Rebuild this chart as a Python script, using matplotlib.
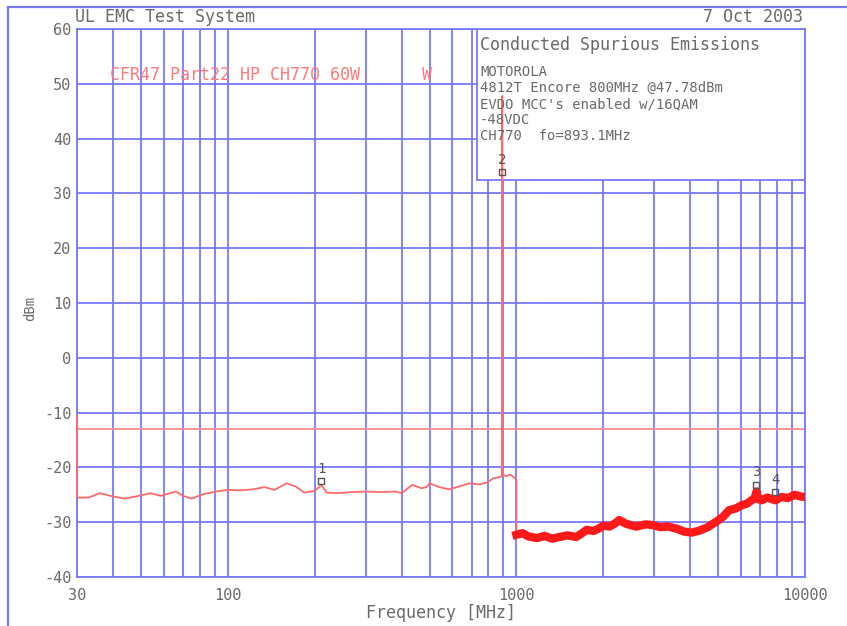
import matplotlib
matplotlib.use("Agg")
import matplotlib.pyplot as plt
from matplotlib.patches import Rectangle
from matplotlib.lines import Line2D
from matplotlib.ticker import FixedLocator, NullFormatter

# Trace below 1 GHz (MHz, dBm)
low_freq = [30, 30, 33, 36, 40, 44, 48, 54, 58.6, 66, 70, 75, 82, 91, 100,
            110, 122, 134, 145, 160, 172, 184, 200, 211, 220, 240, 270, 300,
            340, 380, 400, 435, 470, 488, 500, 540, 585, 640, 687, 740, 790,
            830, 870, 890, 893, 896, 920, 950, 980, 1000, 1000]
low_dbm = [-10.4, -25.5, -25.5, -24.7, -25.3, -25.7, -25.3, -24.7, -25.2,
           -24.4, -25.2, -25.7, -24.9, -24.4, -24.1, -24.2, -24.0, -23.6,
           -24.1, -22.9, -23.5, -24.6, -24.3, -23.2, -24.6, -24.7, -24.5,
           -24.4, -24.5, -24.4, -24.7, -23.2, -23.8, -23.6, -22.9, -23.6,
           -24.0, -23.4, -22.9, -23.1, -22.8, -22.0, -21.8, -21.6, 47.78,
           -21.3, -21.6, -21.3, -21.8, -22.2, -32.3]

# Trace above 1 GHz
high_freq = [1000, 1050, 1100, 1180, 1250, 1330, 1410, 1500, 1610, 1700,
             1750, 1850, 1940, 2000, 2100, 2200, 2270, 2400, 2600, 2800,
             2950, 3150, 3350, 3600, 3800, 4050, 4330, 4600, 4930, 5200,
             5460, 5750, 6040, 6300, 6530, 6700, 6790, 6900, 7070, 7400,
             7890, 8300, 8720, 9200, 9640, 10000]
high_dbm = [-32.3, -32.0, -32.6, -32.9, -32.5, -33.0, -32.7, -32.4, -32.7,
            -31.9, -31.4, -31.6, -31.1, -30.6, -30.8, -30.2, -29.6, -30.3,
            -30.8, -30.4, -30.5, -30.9, -30.8, -31.2, -31.7, -31.9, -31.5,
            -30.9, -29.9, -29.0, -27.8, -27.5, -26.9, -26.6, -26.0, -25.6,
            -24.4, -25.8, -26.0, -25.5, -26.0, -25.4, -25.6, -25.0, -25.3,
            -25.4]

limit_dbm = -13

marker_ids = ["1", "2", "3", "4"]
marker_freq = [211, 893, 6790, 7890]
marker_dbm = [-22.5, 33.9, -23.2, -24.5]

xtick_vals = [30, 100, 1000, 10000]
xtick_text = ["30", "100", "1000", "10000"]
ytick_vals = list(range(-40, 61, 10))

box_title = "Conducted Spurious Emissions"
box_lines = ["MOTOROLA",
             "4812T Encore 800MHz @47.78dBm",
             "EVDO MCC's enabled w/16QAM",
             "-48VDC",
             "CH770  fo=893.1MHz"]

mono = "DejaVu Sans Mono"
grid_blue = "#7878ff"
txt_gray = "#6a6a6a"
W, H = 847, 626

fig = plt.figure(figsize=(8.47, 6.26), dpi=100)
ax = fig.add_axes([77 / W, 1 - 577 / H, 728 / W, 548 / H])

ax.set_xscale("log")
ax.set_xlim(30, 10000)
ax.set_ylim(-40, 60)

ax.xaxis.set_major_locator(FixedLocator(xtick_vals))
ax.set_xticklabels(xtick_text)
minor = [m * d for d in (10, 100, 1000) for m in range(2, 10)]
minor = [v for v in minor if v > 30]
ax.xaxis.set_minor_locator(FixedLocator(minor))
ax.xaxis.set_minor_formatter(NullFormatter())
ax.set_yticks(ytick_vals)
ax.set_yticklabels([str(v) for v in ytick_vals])

ax.set_axisbelow(True)
ax.grid(True, which="both", color=grid_blue, lw=1.3)
for s in ax.spines.values():
    s.set_color(grid_blue)
    s.set_linewidth(1.3)
ax.tick_params(which="both", length=0, labelcolor=txt_gray, labelsize=11)
ax.tick_params(axis="x", pad=8)
ax.tick_params(axis="y", pad=4)
for lab in ax.get_xticklabels() + ax.get_yticklabels():
    lab.set_family(mono)

# info box over the grid
ax.add_patch(Rectangle((0.549, 0.7245), 0.451, 0.2755, transform=ax.transAxes,
                       facecolor="white", edgecolor=grid_blue, lw=1.3, zorder=1))

# limit line
ax.axhline(limit_dbm, color="#ff8c8c", lw=1.3, zorder=2)

ax.plot(low_freq, low_dbm, color="#ff6a6a", lw=1.3, zorder=3, clip_on=False)
ax.plot(high_freq, high_dbm, color="#ff1a1a", lw=6, zorder=3)

for mid, mf, md in zip(marker_ids, marker_freq, marker_dbm):
    ax.plot(mf, md, marker="s", ms=4, mfc="none", mec="#555555", mew=1, zorder=4)
    ax.annotate(mid, (mf, md), xytext=(0, 9), textcoords="offset points",
                ha="center", va="center", fontsize=10, family=mono,
                color="#555555", zorder=4)

# texts
fig.text(75 / W, 1 - 17 / H, "UL EMC Test System", family=mono, fontsize=12,
         color=txt_gray, va="center")
fig.text(803 / W, 1 - 17 / H, "7 Oct 2003", family=mono, fontsize=12,
         color=txt_gray, va="center", ha="right")
fig.text(441 / W, 1 - 613 / H, "Frequency [MHz]", family=mono, fontsize=12,
         color=txt_gray, va="center", ha="center")
fig.text(30 / W, 1 - 308 / H, "dBm", family=mono, fontsize=10, rotation=90,
         color=txt_gray, va="center", ha="center")
fig.text(110 / W, 1 - 75 / H, "CFR47 Part22 HP CH770 60W", family=mono,
         fontsize=12, color="#ff7a7a", va="center")
fig.text(422 / W, 1 - 75 / H, "W", family=mono, fontsize=12, color="#ff7a7a",
         va="center")
fig.text(480 / W, 1 - 45 / H, box_title, family=mono, fontsize=12,
         color=txt_gray, va="center")
for i, line in enumerate(box_lines):
    fig.text(480 / W, 1 - (72.5 + i * 15.8) / H, line, family=mono,
             fontsize=10, color=txt_gray, va="center")

# outer frame
fig.add_artist(Line2D([8 / W, 8 / W], [0, 1 - 7 / H], color=grid_blue, lw=1.6))
fig.add_artist(Line2D([8 / W, 1], [1 - 7 / H, 1 - 7 / H], color=grid_blue, lw=1.6))

fig.savefig("out.png", dpi=100)
